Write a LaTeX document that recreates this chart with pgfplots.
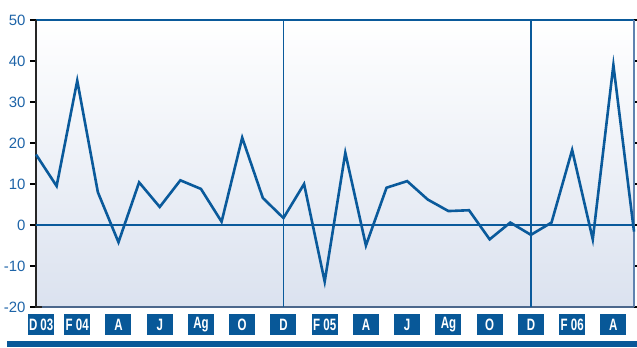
\documentclass[border=0pt]{standalone}
\usepackage{pgfplots}
\pgfplotsset{compat=1.18}
\usepackage{fontspec}
\setmainfont{Liberation Sans}
\newfontfamily\boxfont[FakeStretch=0.7]{Liberation Sans Bold}

\definecolor{lineblue}{RGB}{10,90,155}
\definecolor{boxblue}{RGB}{8,88,152}
\definecolor{numblue}{RGB}{30,100,168}
\definecolor{shadebot}{RGB}{219,226,239}
\definecolor{frameblue}{RGB}{95,130,175}

\pgfplotstableread{
idx val
0 17.2
1 9.5
2 35.2
3 8.0
4 -4.2
5 10.4
6 4.4
7 10.9
8 8.8
9 0.8
10 21.3
11 6.6
12 1.7
13 10.0
14 -13.8
15 17.6
16 -5.0
17 9.1
18 10.7
19 6.2
20 3.4
21 3.6
22 -3.5
23 0.6
24 -2.4
25 0.6
26 18.3
27 -3.5
28 39.0
29 -1.6
}\monthly

\begin{document}
\begin{tikzpicture}[x=1bp,y=1bp]
\useasboundingbox (0,0) rectangle (637,347);
\fill[boxblue] (7,0) rectangle (637,6);
\begin{axis}[
  at={(36bp,40bp)}, anchor=south west,
  scale only axis, width=598bp, height=287bp,
  xmin=0, xmax=29, ymin=-20, ymax=50,
  axis background/.style={shade, top color=white, bottom color=shadebot},
  axis line style={draw=none},
  ytick={-20,-10,...,50},
  yticklabel style={text=numblue, font=\fontsize{15}{15}\selectfont, xshift=-1bp},
  /pgf/number format/assume math mode=true,
  tick align=outside,
  major tick length=6bp,
  y tick style={black, line width=1.2bp},
  xtick={0.25,2,4,...,28},
  xticklabels={D 03,F 04,A,J,Ag,O,D,F 05,A,J,Ag,O,D,F 06,A},
  x tick style={draw=none},
  xticklabel style={fill=boxblue, text=white, font=\boxfont\fontsize{16.5}{16.5}\selectfont,
    minimum width=26bp, minimum height=21bp, inner sep=0pt, anchor=north, yshift=-1bp},
  clip=false,
]
% frame
\draw[lineblue, line width=1.6bp] (rel axis cs:0,1) -- (rel axis cs:1,1);
\draw[frameblue, line width=1.2bp] (rel axis cs:1,1) -- (rel axis cs:1,0);
\draw[frameblue!80!black, line width=1.2bp] (rel axis cs:1,0) -- (rel axis cs:0,0);
\draw[black!85, line width=1.6bp] (rel axis cs:0,1) -- (rel axis cs:0,0) -- ([xshift=6bp]rel axis cs:0,0);
% year separators and zero line
\addplot[lineblue, line width=1.5bp, forget plot] coordinates {(12,-20) (12,50)};
\addplot[lineblue, line width=1.5bp, forget plot] coordinates {(24,-20) (24,50)};
\addplot[lineblue, line width=1.5bp, forget plot] coordinates {(0,0) (29,0)};
% monthly series
\addplot[lineblue, line width=2.6bp, line join=miter, mark=none] table[x=idx, y=val] {\monthly};
\end{axis}
\end{tikzpicture}
\end{document}
